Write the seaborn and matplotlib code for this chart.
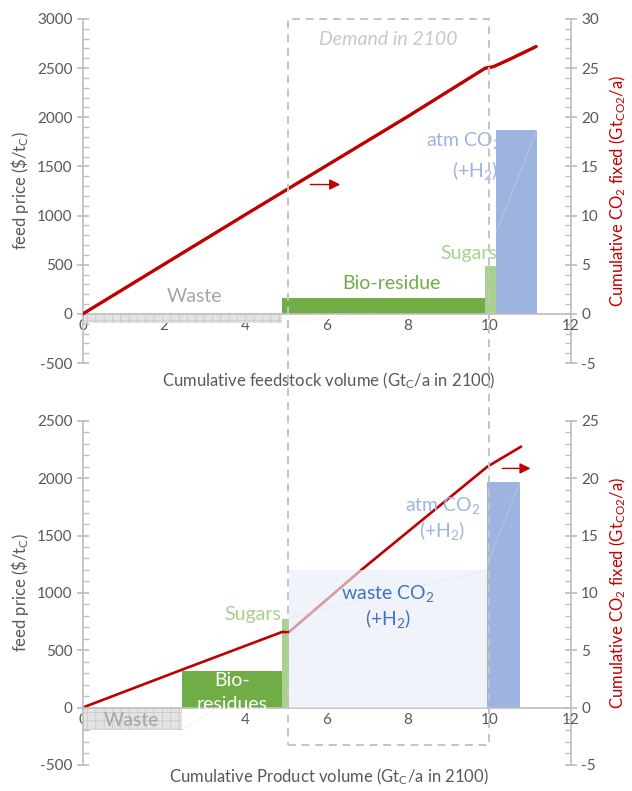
import numpy as np
import pandas as pd
import matplotlib
matplotlib.use("Agg")
import matplotlib.pyplot as plt
import seaborn as sns
from matplotlib.patches import Rectangle
from matplotlib.ticker import MultipleLocator

# ---- data: top panel (feedstock) ----
feed_names = ["Waste", "Bio-residue", "Sugars", "atm CO2"]
feed_start = [0.0, 4.9, 9.9, 10.17]
feed_width = [4.9, 5.0, 0.27, 1.0]
feed_price = [-95, 160, 490, 1875]

feed_curve_x = [0.0, 2.0, 4.0, 6.0, 8.0, 9.9, 10.1, 10.5, 11.15]
feed_curve_co2 = [0.0, 5.05, 10.1, 15.1, 20.1, 25.0, 25.15, 25.9, 27.2]

# faint connector lines seen in the original (nan = break)
feed_faint_x = [4.9, 7.1, np.nan, 10.17, 11.17]
feed_faint_y = [-95, 10, np.nan, 830, 1875]

# ---- data: bottom panel (product) ----
prod_names = ["Waste", "Bio-residues", "Sugars", "waste CO2", "atm CO2"]
prod_start = [0.0, 2.44, 4.91, 5.06, 9.95]
prod_width = [2.44, 2.47, 0.15, 4.89, 0.8]
prod_price = [-195, 320, 775, 1195, 1963]

prod_curve_x = [0.0, 2.44, 4.91, 5.06, 6.85, 9.95, 10.78]
prod_curve_co2 = [0.0, 3.3, 6.6, 6.55, 12.0, 21.0, 22.75]

prod_faint_x = [2.44, 3.3, np.nan, 5.06, 9.9, np.nan, 9.95, 10.75]
prod_faint_y = [-195, 0, np.nan, 780, 1195, np.nan, 1250, 1963]

RED = "#C00000"
GRAY_TXT = "#595959"
SPINE = "#BFBFBF"
GREEN = "#70AD47"
LGREEN = "#A9D18E"
BLUE = "#9DB4E0"
LBLUE = "#E8EDF8"
DBLUE = "#4472C4"
FONT = "Lato"

sns.set_theme(style="white")
plt.rcParams["font.family"] = [FONT, "DejaVu Sans"]
plt.rcParams["axes.unicode_minus"] = False
plt.rcParams["hatch.linewidth"] = 0.6
plt.rcParams["mathtext.fontset"] = "custom"
plt.rcParams["mathtext.rm"] = FONT
plt.rcParams["mathtext.it"] = FONT + ":italic"

YLAB = "feed price (\\$/t$_\\mathrm{C}$)"
Y2LAB = "Cumulative CO$_2$ fixed (Gt$_\\mathrm{CO2}$/a)"

fig = plt.figure(figsize=(6.32, 7.91), dpi=100)
ax1 = fig.add_axes([0.131, 0.541, 0.772, 0.435])
ax2 = fig.add_axes([0.131, 0.033, 0.772, 0.435])


def style_axes(ax, ylim, y2lim):
    ax.set_xlim(0, 12)
    ax.set_ylim(*ylim)
    for s in ["top", "right"]:
        ax.spines[s].set_visible(False)
    ax.spines["bottom"].set_position(("data", 0))
    ax.spines["bottom"].set_color(SPINE)
    ax.spines["left"].set_color(SPINE)
    ax.yaxis.set_major_locator(MultipleLocator(500))
    ax.yaxis.set_minor_locator(MultipleLocator(100))
    ax.xaxis.set_major_locator(MultipleLocator(2))
    ax.tick_params(axis="y", which="major", direction="inout", length=8,
                   color=SPINE, labelsize=11, labelcolor=GRAY_TXT, left=True)
    ax.tick_params(axis="y", which="minor", direction="in", length=4,
                   color=SPINE, left=True)
    ax.tick_params(axis="x", which="major", length=0, labelsize=11,
                   labelcolor=GRAY_TXT, pad=4)

    axr = ax.twinx()
    axr.set_ylim(*y2lim)
    for s in ["top", "left", "bottom"]:
        axr.spines[s].set_visible(False)
    axr.spines["right"].set_color(SPINE)
    axr.yaxis.set_major_locator(MultipleLocator(5))
    axr.yaxis.set_minor_locator(MultipleLocator(1))
    axr.tick_params(axis="y", which="major", direction="inout", length=8,
                    color=SPINE, labelsize=11, labelcolor=GRAY_TXT, right=True)
    axr.tick_params(axis="y", which="minor", direction="in", length=4,
                    color=SPINE, right=True)
    axr.set_ylabel(Y2LAB, color=RED, fontsize=12, labelpad=6)
    ax.set_zorder(axr.get_zorder() + 1)
    ax.patch.set_visible(False)
    return axr


# ---------------- top panel ----------------
ax1r = style_axes(ax1, (-500, 3000), (-5, 30))

cols1 = ["#E3E3E3", GREEN, LGREEN, BLUE]
for i, name in enumerate(feed_names):
    kw = dict(hatch="++", edgecolor="#C9C9C9") if name == "Waste" else dict(edgecolor="none")
    ax1.bar(feed_start[i], feed_price[i], width=feed_width[i], align="edge",
            color=cols1[i], linewidth=0, zorder=2, **kw)

ax1.plot(feed_faint_x, feed_faint_y, color="#E6E6E6", lw=0.6, zorder=2.5, alpha=0.4)

# CO2 curve, right-axis units (x100 maps onto the left scale)
df1 = pd.DataFrame({"x": feed_curve_x, "price": np.array(feed_curve_co2) * 100})
sns.lineplot(data=df1, x="x", y="price", ax=ax1, color=RED, lw=2.4, zorder=4)
ax1.set_xlabel("")
ax1.set_ylabel(YLAB, color=GRAY_TXT, fontsize=12)

ax1.annotate("", xy=(6.4, 1316), xytext=(5.53, 1316),
             arrowprops=dict(arrowstyle="-|>", color=RED, lw=1.0, mutation_scale=16), zorder=5)

ax1.text(2.75, 90, "Waste", color="#A6A6A6", fontsize=14, ha="center", va="bottom")
ax1.text(7.6, 225, "Bio-residue", color=GREEN, fontsize=14, ha="center", va="bottom")
ax1.text(10.2, 530, "Sugars", color=LGREEN, fontsize=14, ha="right", va="bottom")
ax1.text(10.3, 1760, "atm CO$_2$", color=BLUE, fontsize=14, ha="right", va="center")
ax1.text(10.22, 1460, "(+H$_2$)", color=BLUE, fontsize=14, ha="right", va="center")

fig.text(0.52, 0.518, "Cumulative feedstock volume (Gt$_\\mathrm{C}$/a in 2100)",
         color=GRAY_TXT, fontsize=12, ha="center", va="center")

# ---------------- bottom panel ----------------
ax2r = style_axes(ax2, (-500, 2500), (-5, 25))

df2 = pd.DataFrame({"x": prod_curve_x, "price": np.array(prod_curve_co2) * 100})
sns.lineplot(data=df2, x="x", y="price", ax=ax2, color=RED, lw=1.9, zorder=2)
ax2.set_xlabel("")
ax2.set_ylabel(YLAB, color=GRAY_TXT, fontsize=12)

cols2 = ["#E3E3E3", GREEN, LGREEN, LBLUE, BLUE]
alphas2 = [1, 1, 1, 0.65, 1]
bars2 = []
for i, name in enumerate(prod_names):
    kw = dict(hatch="++", edgecolor="#C9C9C9") if name == "Waste" else dict(edgecolor="none")
    b = ax2.bar(prod_start[i], prod_price[i], width=prod_width[i], align="edge",
                color=cols2[i], alpha=alphas2[i], linewidth=0,
                zorder=3 if name == "waste CO2" else 1.5, **kw)
    bars2.append(b[0])

ax2.plot(prod_faint_x, prod_faint_y, color="#E0E0E0", lw=0.6, zorder=3.5, alpha=0.45)

ax2.annotate("", xy=(11.08, 2085), xytext=(10.25, 2085),
             arrowprops=dict(arrowstyle="-|>", color=RED, lw=1.0, mutation_scale=16), zorder=5)

ax2.text(1.2, -115, "Waste", color="#A6A6A6", fontsize=14, ha="center", va="center", zorder=4)
ax2.text(3.68, 232, "Bio-", color="white", fontsize=14, ha="center", va="center", zorder=4)
t_res = ax2.text(3.68, 28, "residues", color="white", fontsize=14, ha="center", va="center", zorder=4)
t_res.set_clip_path(bars2[1])
ax2.text(4.88, 815, "Sugars", color=LGREEN, fontsize=14, ha="right", va="center", zorder=4)
ax2.text(7.5, 995, "waste CO$_2$", color=DBLUE, fontsize=14, ha="center", va="center", zorder=4)
ax2.text(7.5, 775, "(+H$_2$)", color=DBLUE, fontsize=14, ha="center", va="center", zorder=4)
ax2.text(8.85, 1765, "atm CO$_2$", color=BLUE, fontsize=14, ha="center", va="center", zorder=4)
ax2.text(8.85, 1545, "(+H$_2$)", color=BLUE, fontsize=14, ha="center", va="center", zorder=4)

fig.text(0.52, 0.018, "Cumulative Product volume (Gt$_\\mathrm{C}$/a in 2100)",
         color=GRAY_TXT, fontsize=12, ha="center", va="center")

# ---------------- demand box across both panels ----------------
inv = fig.transFigure.inverted()
x0, y1 = inv.transform(ax1.transData.transform((5.05, 3000)))
x1, y0 = inv.transform(ax2.transData.transform((10.0, -330)))
fig.patches.append(Rectangle((x0, y0), x1 - x0, y1 - y0, transform=fig.transFigure,
                             fill=False, edgecolor="#C4C4C4", lw=1.4,
                             linestyle=(0, (4, 3)), zorder=10))
ax1.text(7.52, 2790, "Demand in 2100", color="#C8C8C8", fontsize=14,
         style="italic", ha="center", va="center")

fig.savefig("out.png", dpi=100)
